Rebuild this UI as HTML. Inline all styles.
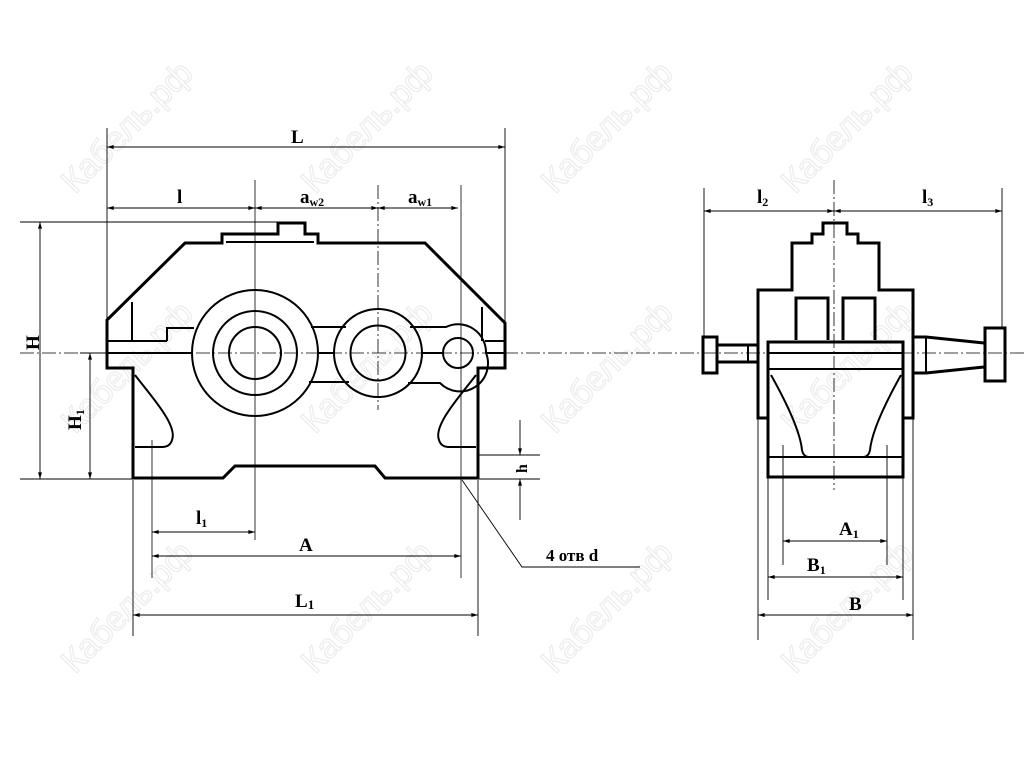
<!DOCTYPE html>
<html><head><meta charset="utf-8"><style>
html,body{margin:0;padding:0;background:#fff;}
svg{display:block;}
text{font-family:"Liberation Serif",serif;font-weight:bold;fill:#000;}
.wm{font-family:"Liberation Sans",sans-serif;font-weight:normal;fill:none;stroke:#ececec;stroke-width:1.2;font-size:34px;}
</style></head><body>
<svg width="1024" height="768" viewBox="0 0 1024 768" xmlns="http://www.w3.org/2000/svg">
<defs>
<marker id="a" viewBox="0 0 10 6" refX="10" refY="3" markerWidth="10" markerHeight="4" orient="auto-start-reverse" markerUnits="userSpaceOnUse"><path d="M0,0 L10,3 L0,6 z" fill="#000"/></marker>
</defs>
<g>
<text class="wm" transform="translate(75,195) rotate(-45)">Кабель.рф</text>
<text class="wm" transform="translate(315,195) rotate(-45)">Кабель.рф</text>
<text class="wm" transform="translate(555,195) rotate(-45)">Кабель.рф</text>
<text class="wm" transform="translate(795,195) rotate(-45)">Кабель.рф</text>
<text class="wm" transform="translate(75,435) rotate(-45)">Кабель.рф</text>
<text class="wm" transform="translate(315,435) rotate(-45)">Кабель.рф</text>
<text class="wm" transform="translate(555,435) rotate(-45)">Кабель.рф</text>
<text class="wm" transform="translate(795,435) rotate(-45)">Кабель.рф</text>
<text class="wm" transform="translate(75,675) rotate(-45)">Кабель.рф</text>
<text class="wm" transform="translate(315,675) rotate(-45)">Кабель.рф</text>
<text class="wm" transform="translate(555,675) rotate(-45)">Кабель.рф</text>
<text class="wm" transform="translate(795,675) rotate(-45)">Кабель.рф</text>
</g>

<g stroke="#000" stroke-width="0.8" fill="none">
<line x1="20" y1="353" x2="1024" y2="353" stroke-dasharray="14,3,2,3"/>
<line x1="834" y1="180" x2="834" y2="490" stroke-dasharray="14,3,2,3"/>
<line x1="378" y1="185" x2="378" y2="410" stroke-dasharray="14,3,2,3"/>
<line x1="152" y1="440" x2="152" y2="578"/>
<line x1="461" y1="185" x2="461" y2="578"/>
<line x1="255" y1="180" x2="255" y2="540"/>
</g>

<g stroke="#000" stroke-width="3" fill="none" stroke-linejoin="miter">
<path d="M278,234 V223 H305 V234 H318 V243 H425 L505,323 V368 H478 V478 H385 L375,466 H235 L223,478 H133 V368 H107 V320 L185,243 H222 V234 Z"/>
</g>
<g stroke="#000" stroke-width="2" fill="none">
<line x1="226" y1="242" x2="314" y2="242"/>
<line x1="107" y1="341" x2="167" y2="341"/>
<polyline points="167,341 167,328 194,328"/>
<line x1="132" y1="302" x2="132" y2="341"/>
<line x1="482" y1="307" x2="482" y2="341"/>
<line x1="485" y1="341" x2="505" y2="341"/>
<line x1="107" y1="353" x2="192" y2="353"/>
<line x1="318" y1="353" x2="334" y2="353"/>
<line x1="422" y1="353" x2="443" y2="353"/>
<line x1="486" y1="353" x2="505" y2="353"/>
<circle cx="255" cy="353" r="63"/>
<circle cx="255" cy="353" r="42"/>
<circle cx="255" cy="353" r="26"/>
<circle cx="378" cy="353" r="44"/>
<circle cx="378" cy="353" r="27.5"/>
<circle cx="458" cy="353" r="15"/>
<path d="M311,327 H346"/>
<path d="M309,382 H349"/>
<path d="M410,327 H446 A28,28 0 0 1 486,353 A28,28 0 0 1 440,383 H408"/>
<path d="M135,375 C150,395 178,425 172,440 Q170,447 162,447 H135"/>
<path d="M476,375 C461,395 433,425 439,440 Q441,447 449,447 H476"/>
</g>

<g stroke="#000" stroke-width="3" fill="none">
<path d="M823,234 V223 H847 V234 H858 V243 H879 V290 H913 V418 H903 V477 H768 V418 H758 V290 H792 V243 H812 V234 Z"/>
<rect x="768" y="342" width="135" height="135"/>
<path d="M796,340 V298 H828 V340"/>
<path d="M843,340 V298 H875 V340"/>
<rect x="703" y="337" width="14" height="36"/>
<path d="M717,345 H758 M717,362 H758"/>
<path d="M913,337 H926 L984,343 M913,373 H926 L984,367"/>
<rect x="985" y="328" width="20" height="53"/>
</g>
<g stroke="#000" stroke-width="2" fill="none">
<line x1="768" y1="353" x2="903" y2="353"/>
<line x1="768" y1="369" x2="903" y2="369"/>
<line x1="768" y1="457" x2="903" y2="457"/>
<line x1="748" y1="345" x2="748" y2="362"/>
<line x1="926" y1="337" x2="926" y2="373"/>
<path d="M771,375 C785,400 800,430 802,450 Q803,456 808,457"/>
<path d="M901,375 C887,400 872,430 870,450 Q869,456 864,457"/>
</g>

<g stroke="#000" stroke-width="0.9" fill="none">
<line x1="107" y1="128" x2="107" y2="320"/>
<line x1="505" y1="128" x2="505" y2="323"/>
<line x1="107" y1="147" x2="505" y2="147" marker-start="url(#a)" marker-end="url(#a)"/>
<line x1="107" y1="208" x2="255" y2="208" marker-start="url(#a)" marker-end="url(#a)"/>
<line x1="255" y1="208" x2="378" y2="208" marker-start="url(#a)" marker-end="url(#a)"/>
<line x1="378" y1="208" x2="458" y2="208" marker-start="url(#a)" marker-end="url(#a)"/>
<line x1="20" y1="222" x2="278" y2="222"/>
<line x1="20" y1="479" x2="133" y2="479"/>
<line x1="40" y1="222" x2="40" y2="479" marker-start="url(#a)" marker-end="url(#a)"/>
<line x1="80" y1="353" x2="107" y2="353"/>
<line x1="90" y1="353" x2="90" y2="479" marker-start="url(#a)" marker-end="url(#a)"/>
<line x1="478" y1="455" x2="540" y2="455"/>
<line x1="478" y1="479" x2="540" y2="479"/>
<line x1="520" y1="420" x2="520" y2="455" marker-end="url(#a)"/>
<line x1="520" y1="520" x2="520" y2="479" marker-end="url(#a)"/>
<polyline points="462,480 522,567 640,567"/>
<line x1="133" y1="480" x2="133" y2="636"/>
<line x1="478" y1="480" x2="478" y2="636"/>
<line x1="152" y1="532" x2="255" y2="532" marker-start="url(#a)" marker-end="url(#a)"/>
<line x1="152" y1="556" x2="461" y2="556" marker-start="url(#a)" marker-end="url(#a)"/>
<line x1="133" y1="615" x2="478" y2="615" marker-start="url(#a)" marker-end="url(#a)"/>
<line x1="704" y1="188" x2="704" y2="337"/>
<line x1="1002" y1="188" x2="1002" y2="328"/>
<line x1="704" y1="211" x2="834" y2="211" marker-start="url(#a)" marker-end="url(#a)"/>
<line x1="834" y1="211" x2="1002" y2="211" marker-start="url(#a)" marker-end="url(#a)"/>
<line x1="758" y1="418" x2="758" y2="640"/>
<line x1="913" y1="418" x2="913" y2="640"/>
<line x1="768" y1="477" x2="768" y2="600"/>
<line x1="903" y1="477" x2="903" y2="600"/>
<line x1="783" y1="445" x2="783" y2="565"/>
<line x1="887" y1="445" x2="887" y2="565"/>
<line x1="783" y1="541" x2="887" y2="541" marker-start="url(#a)" marker-end="url(#a)"/>
<line x1="768" y1="577" x2="903" y2="577" marker-start="url(#a)" marker-end="url(#a)"/>
<line x1="758" y1="615" x2="913" y2="615" marker-start="url(#a)" marker-end="url(#a)"/>
</g>

<g font-size="19">
<text x="291" y="143">L</text>
<text x="177" y="203">l</text>
<text x="300" y="203">a<tspan font-size="12" dy="3">w2</tspan></text>
<text x="408" y="203">a<tspan font-size="12" dy="3">w1</tspan></text>
<text transform="translate(39,350) rotate(-90)">H</text>
<text transform="translate(81,430) rotate(-90)">H<tspan font-size="12" dy="3">1</tspan></text>
<text transform="translate(527,473) rotate(-90)" font-size="16">h</text>
<text x="196" y="524">l<tspan font-size="12" dy="3">1</tspan></text>
<text x="299" y="551">A</text>
<text x="295" y="607">L<tspan font-size="13" dy="2">1</tspan></text>
<text x="546" y="561" font-size="17">4 отв d</text>
<text x="757" y="203">l<tspan font-size="12" dy="3">2</tspan></text>
<text x="922" y="203">l<tspan font-size="12" dy="3">3</tspan></text>
<text x="839" y="535">A<tspan font-size="12" dy="3">1</tspan></text>
<text x="807" y="571">B<tspan font-size="12" dy="3">1</tspan></text>
<text x="849" y="610">B</text>
</g>
</svg>
</body></html>
